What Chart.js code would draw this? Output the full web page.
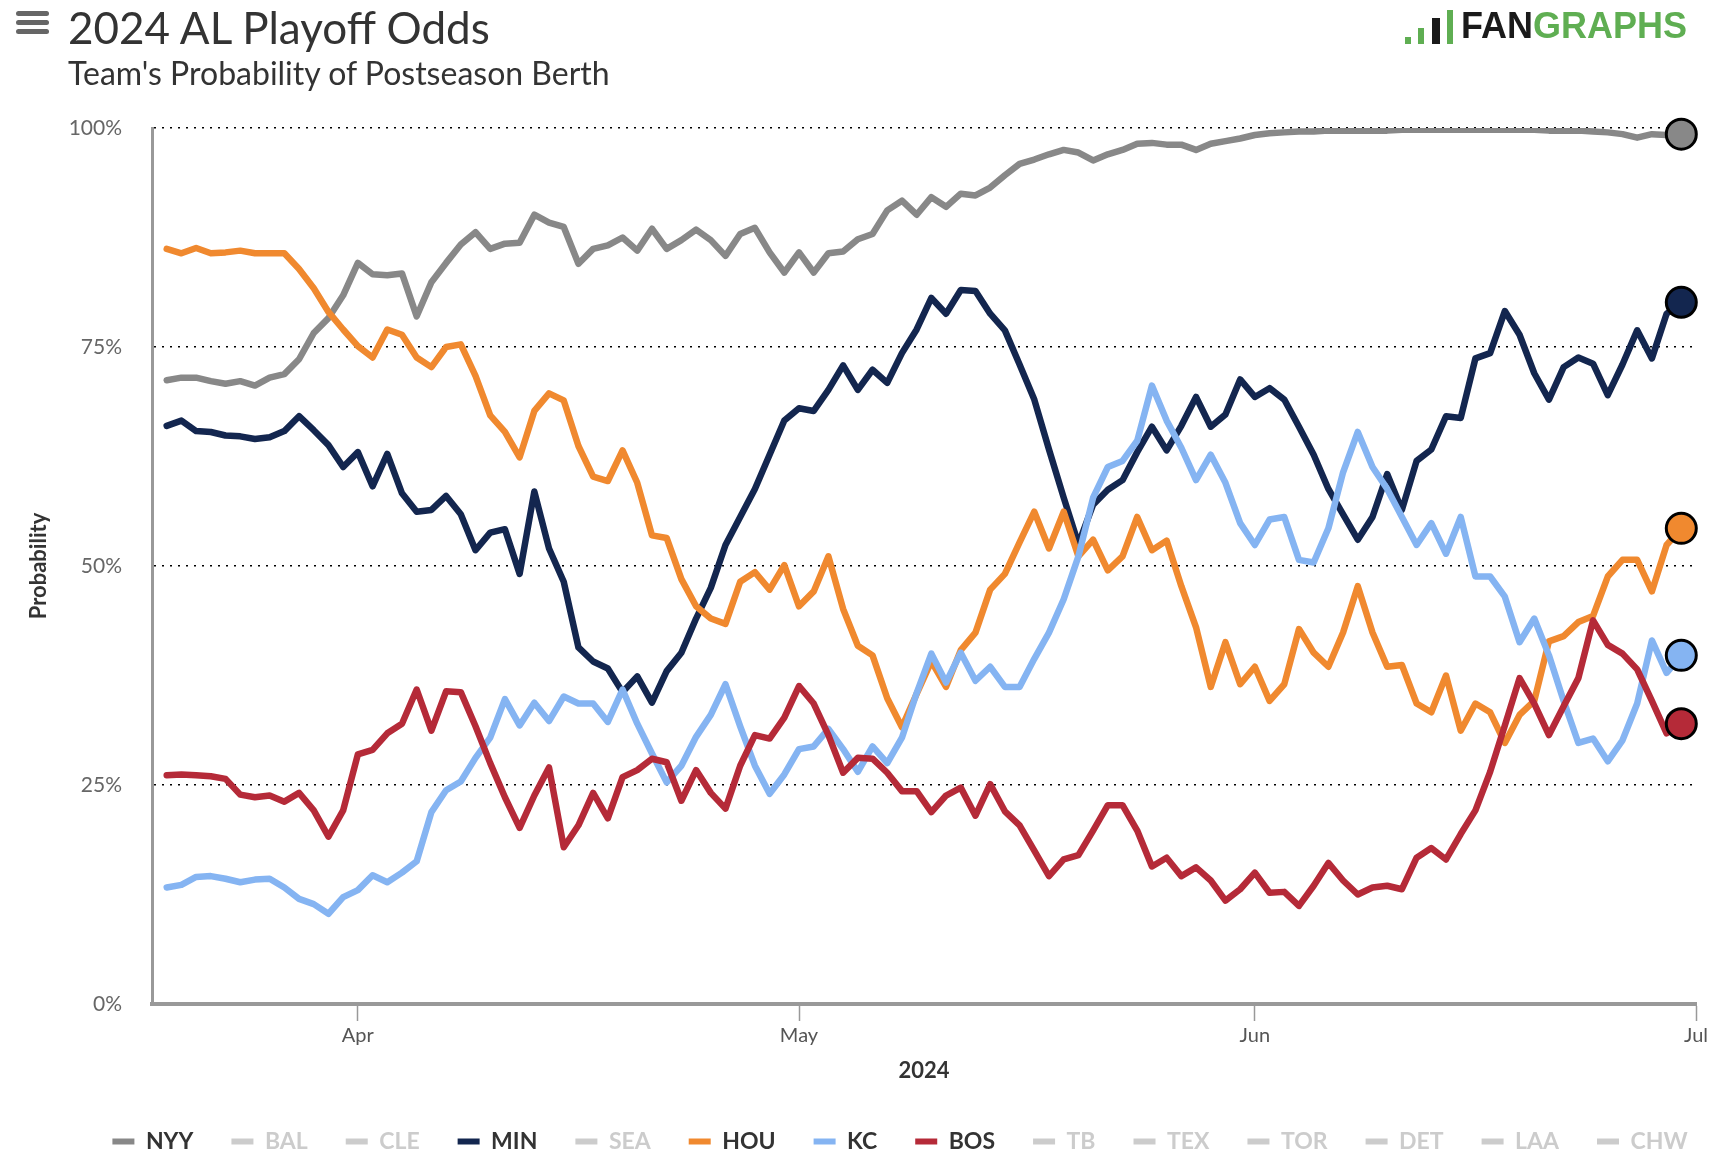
<!DOCTYPE html>
<html lang="en">
<head>
<meta charset="utf-8">
<title>2024 AL Playoff Odds</title>
<script src="https://cdn.jsdelivr.net/npm/chart.js@4.4.1/dist/chart.umd.min.js"></script>
<style>
  html, body { margin: 0; padding: 0; background: #fff; }
  body {
    width: 1714px; height: 1158px; position: relative; overflow: hidden;
    font-family: Lato, "Open Sans", sans-serif; color: #333;
  }
  #myChart { position: absolute; left: 0; top: 0; }
  .menu { position: absolute; left: 16px; top: 11px; width: 33px; }
  .menu span { display: block; height: 5px; margin-bottom: 4px; background: #666; border-radius: 3px; }
  #title { position: absolute; left: 68px; top: 5px; font-size: 44px; line-height: 1; color: #333; white-space: nowrap; }
  #subtitle { position: absolute; left: 68px; top: 57px; font-size: 32px; line-height: 1; color: #333; white-space: nowrap; }
  #logo { position: absolute; right: 27px; top: 8px; height: 36px; white-space: nowrap; }
  #logo .bars { display: inline-block; position: relative; width: 52px; height: 36px; vertical-align: top; margin-right: 4px; }
  #logo .bars i { position: absolute; bottom: 0; width: 6px; background: #5fae52; }
  #logo .word { font-family: "Liberation Sans", Arial, sans-serif; font-weight: bold; font-size: 36px; line-height: 1; letter-spacing: 0; }
  #logo .fan { color: #1a1a1a; }
  #logo .graphs { color: #5fae52; }
</style>
</head>
<body>

<canvas id="myChart" width="1714" height="1158"></canvas>

<div class="menu"><span></span><span></span><span></span></div>
<div id="title">2024 AL Playoff Odds</div>
<div id="subtitle">Team's Probability of Postseason Berth</div>
<div id="logo">
  <div class="bars">
    <i style="left:0;height:7px"></i>
    <i style="left:13px;height:16px"></i>
    <i style="left:27px;height:26px;background:#1a1a1a;width:8px"></i>
    <i style="left:42px;height:34px"></i>
  </div><span class="word"><span class="fan">FAN</span><span class="graphs">GRAPHS</span></span>
</div>

<script>
  // day 0 = Apr 1 2024, first point is Mar 19
  const firstDay = -13;
  const monthTicks = [0, 30, 61, 91];
  const monthLabels = ['Apr', 'May', 'Jun', 'Jul'];
  const yTicks = [0, 25, 50, 75, 100];

  const teams = ['NYY', 'BAL', 'CLE', 'MIN', 'SEA', 'HOU', 'KC', 'BOS', 'TB', 'TEX', 'TOR', 'DET', 'LAA', 'CHW'];

  const nyy = [71.2, 71.5, 71.5, 71.1, 70.8, 71.1, 70.6, 71.5, 71.9, 73.6,
    76.6, 78.3, 80.9, 84.6, 83.3, 83.2, 83.4, 78.5, 82.4, 84.6,
    86.7, 88.1, 86.2, 86.8, 86.9, 90.1, 89.2, 88.7, 84.5, 86.2,
    86.6, 87.5, 86.0, 88.5, 86.2, 87.2, 88.4, 87.2, 85.4, 87.9,
    88.6, 85.8, 83.5, 85.8, 83.5, 85.7, 85.9, 87.3, 87.9, 90.6,
    91.7, 90.1, 92.1, 91.0, 92.5, 92.3, 93.2, 94.6, 95.9, 96.4,
    97.0, 97.5, 97.2, 96.3, 97.0, 97.5, 98.2, 98.3, 98.1, 98.1,
    97.5, 98.2, 98.5, 98.8, 99.2, 99.4, 99.5, 99.6, 99.6, 99.7,
    99.7, 99.7, 99.7, 99.7, 99.8, 99.8, 99.8, 99.8, 99.8, 99.8,
    99.8, 99.8, 99.8, 99.8, 99.7, 99.7, 99.7, 99.6, 99.5, 99.3,
    98.9, 99.3, 99.2, 99.3];

  const min = [66.0, 66.6, 65.4, 65.3, 64.9, 64.8, 64.5, 64.7, 65.4, 67.1,
    65.5, 63.8, 61.3, 63.0, 59.1, 62.8, 58.3, 56.2, 56.4, 58.0,
    55.9, 51.8, 53.8, 54.2, 49.1, 58.5, 52.0, 48.2, 40.7, 39.1,
    38.3, 35.6, 37.4, 34.4, 38.0, 40.1, 44.0, 47.5, 52.4, 55.6,
    58.8, 62.7, 66.6, 68.0, 67.7, 70.1, 72.9, 70.1, 72.4, 70.9,
    74.3, 77.0, 80.6, 78.8, 81.5, 81.4, 78.8, 76.9, 73.0, 69.0,
    63.3, 57.8, 52.5, 57.0, 58.7, 59.8, 63.0, 65.9, 63.2, 66.0,
    69.3, 65.9, 67.3, 71.3, 69.3, 70.3, 69.0, 65.9, 62.7, 58.8,
    55.9, 53.0, 55.6, 60.5, 56.4, 62.0, 63.3, 67.1, 66.9, 73.7,
    74.3, 79.1, 76.4, 72.0, 69.0, 72.7, 73.8, 73.1, 69.5, 73.0,
    76.9, 73.7, 78.8, 80.1];

  const hou = [86.2, 85.7, 86.3, 85.7, 85.8, 86.0, 85.7, 85.7, 85.7, 83.9,
    81.7, 79.0, 77.0, 75.1, 73.8, 77.0, 76.4, 73.8, 72.7, 75.0,
    75.3, 71.7, 67.2, 65.3, 62.4, 67.7, 69.7, 68.9, 63.7, 60.2,
    59.7, 63.2, 59.5, 53.5, 53.2, 48.5, 45.4, 44.0, 43.4, 48.2,
    49.3, 47.3, 50.1, 45.4, 47.1, 51.1, 45.1, 40.9, 39.8, 34.9,
    31.6, 35.4, 39.1, 36.2, 40.4, 42.4, 47.3, 49.1, 52.7, 56.2,
    52.0, 56.2, 51.1, 53.0, 49.5, 51.1, 55.6, 51.8, 52.9, 47.7,
    43.0, 36.2, 41.3, 36.5, 38.5, 34.6, 36.5, 42.8, 40.1, 38.5,
    42.4, 47.7, 42.4, 38.5, 38.7, 34.3, 33.3, 37.5, 31.2, 34.3,
    33.3, 29.8, 33.0, 34.6, 41.4, 42.0, 43.6, 44.3, 48.8, 50.7,
    50.7, 47.1, 52.4, 54.3];

  const kc = [13.3, 13.6, 14.5, 14.6, 14.3, 13.9, 14.2, 14.3, 13.3, 12.0,
    11.4, 10.3, 12.2, 13.0, 14.7, 13.9, 15.0, 16.3, 21.9, 24.4,
    25.4, 28.1, 30.4, 34.8, 31.8, 34.4, 32.3, 35.1, 34.3, 34.3,
    32.2, 35.9, 32.0, 28.6, 25.3, 27.2, 30.5, 33.0, 36.5, 31.7,
    27.2, 24.0, 26.2, 29.1, 29.4, 31.4, 29.1, 26.5, 29.4, 27.5,
    30.4, 35.5, 40.0, 36.7, 40.1, 36.9, 38.5, 36.2, 36.2, 39.4,
    42.4, 46.2, 51.1, 57.8, 61.3, 62.0, 64.3, 70.6, 66.6, 63.5,
    59.8, 62.7, 59.5, 54.9, 52.4, 55.3, 55.6, 50.7, 50.4, 54.3,
    60.7, 65.3, 61.3, 58.8, 55.6, 52.4, 54.9, 51.4, 55.6, 48.8,
    48.8, 46.5, 41.3, 44.0, 39.8, 34.6, 29.8, 30.3, 27.7, 30.1,
    34.3, 41.5, 37.8, 39.8];

  const bos = [26.1, 26.2, 26.1, 26.0, 25.7, 23.9, 23.6, 23.8, 23.1, 24.1,
    22.1, 19.1, 22.1, 28.5, 29.0, 30.9, 32.0, 35.9, 31.2, 35.7,
    35.6, 31.7, 27.5, 23.6, 20.1, 23.8, 27.0, 17.9, 20.4, 24.1,
    21.2, 25.9, 26.7, 28.0, 27.6, 23.2, 26.7, 24.1, 22.3, 27.2,
    30.7, 30.3, 32.7, 36.3, 34.3, 30.7, 26.4, 28.1, 28.0, 26.4,
    24.3, 24.3, 21.9, 23.8, 24.7, 21.5, 25.1, 22.0, 20.4, 17.5,
    14.6, 16.5, 17.0, 19.8, 22.7, 22.7, 19.8, 15.7, 16.7, 14.6,
    15.6, 14.1, 11.8, 13.1, 15.0, 12.7, 12.8, 11.2, 13.5, 16.1,
    14.1, 12.5, 13.3, 13.5, 13.1, 16.7, 17.8, 16.5, 19.4, 22.1,
    26.5, 31.8, 37.2, 34.3, 30.7, 34.0, 37.2, 43.8, 41.0, 40.0,
    38.2, 34.6, 30.9, 32.0];

  // only these teams are switched on in the legend
  const teamData = { NYY: nyy, MIN: min, HOU: hou, KC: kc, BOS: bos };
  const teamColors = { NYY: '#888888', MIN: '#13264f', HOU: '#f0892f', KC: '#85b4f2', BOS: '#b52a38' };
  const offColor = '#cccccc';

  function toPoints(values) {
    return values.map((v, i) => ({ x: firstDay + i, y: v }));
  }

  const datasets = [];
  teams.forEach((team, idx) => {
    const values = teamData[team];
    if (values) {
      datasets.push({
        label: team,
        data: toPoints(values),
        borderColor: teamColors[team],
        backgroundColor: teamColors[team],
        borderWidth: 6.5,
        borderJoinStyle: 'round',
        borderCapStyle: 'round',
        pointRadius: 0,
        tension: 0,
        order: -idx,
        onLegend: true,
        active: true
      });
    } else {
      datasets.push({ label: team, data: [], hidden: true, order: -idx, onLegend: true, active: false });
    }
  });

  // end-of-line dots
  teams.forEach(team => {
    const values = teamData[team];
    if (!values) return;
    const last = toPoints(values).slice(-1);
    datasets.push({
      label: team + ' end',
      data: last,
      showLine: false,
      pointRadius: 15,
      pointBorderWidth: 3,
      pointBorderColor: '#000',
      pointBackgroundColor: teamColors[team],
      clip: false,
      order: -100,
      onLegend: false
    });
  });

  // the legend row sits a little right of centre and lower in the original
  const legendShift = {
    id: 'legendShift',
    afterLayout(c) {
      c.legend.left += 52;
      c.legend.right += 52;
      c.legend.top += 5;
      c.legend.bottom += 5;
    }
  };

  const ctx = document.getElementById('myChart');
  const chart = new Chart(ctx, {
    type: 'line',
    data: { datasets: datasets },
    plugins: [legendShift],
    options: {
      responsive: false,
      animation: false,
      layout: { padding: { top: 128, right: 18, left: 0, bottom: 0 } },
      plugins: {
        tooltip: { enabled: false },
        legend: {
          position: 'bottom',
          onClick: null,
          labels: {
            font: { family: 'Lato', size: 23, weight: 'bold' },
            boxWidth: 22,
            boxHeight: 6,
            padding: 38,
            generateLabels: function (c) {
              const items = [];
              c.data.datasets.forEach((ds, i) => {
                if (!ds.onLegend) return;
                const col = ds.active ? teamColors[ds.label] : offColor;
                items.push({
                  text: ds.label,
                  fillStyle: col,
                  strokeStyle: col,
                  lineWidth: 0,
                  hidden: false,
                  fontColor: ds.active ? '#333' : offColor,
                  datasetIndex: i
                });
              });
              return items;
            }
          }
        }
      },
      scales: {
        x: {
          type: 'linear',
          min: -14,
          max: 91,
          afterBuildTicks: s => { s.ticks = monthTicks.map(v => ({ value: v })); },
          afterFit: s => { s.height = 83; },
          ticks: {
            callback: v => monthLabels[monthTicks.indexOf(v)],
            color: '#555',
            font: { family: 'Lato', size: 20 },
            padding: 3,
            maxRotation: 0,
            autoSkip: false
          },
          grid: { drawOnChartArea: false, drawTicks: true, tickLength: 17, tickColor: '#999', tickWidth: 1.5 },
          border: { color: '#999', width: 4 },
          title: {
            display: true, text: '2024', color: '#333',
            font: { family: 'Lato', size: 22, weight: 'bold' },
            padding: { top: 0, bottom: 3 }
          }
        },
        y: {
          min: 0,
          max: 100,
          afterBuildTicks: s => { s.ticks = yTicks.map(v => ({ value: v })); },
          afterFit: s => { s.width = 152; },
          ticks: {
            callback: v => v + '%',
            color: '#666',
            font: { family: 'Lato', size: 21 },
            padding: 30
          },
          grid: {
            color: c => (c.tick && c.tick.value === 0) ? 'rgba(0,0,0,0)' : '#000',
            lineWidth: 1.5,
            drawTicks: false
          },
          border: { color: '#999', width: 3, dash: [2, 6] },
          title: {
            display: true, text: 'Probability', color: '#333',
            font: { family: 'Lato', size: 22, weight: 'bold' },
            padding: { top: 26, bottom: 0 }
          }
        }
      }
    }
  });
</script>
</body>
</html>
